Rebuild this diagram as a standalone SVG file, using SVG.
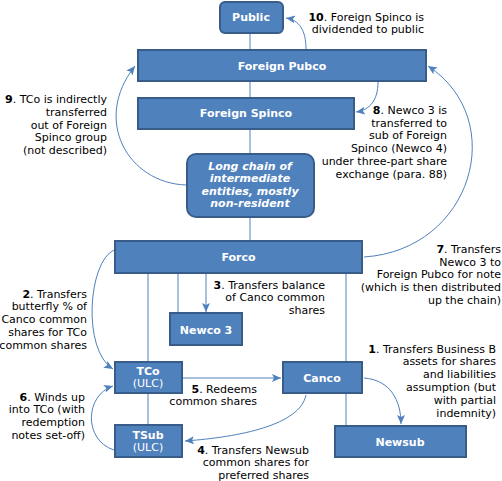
<svg xmlns="http://www.w3.org/2000/svg" width="502" height="481" viewBox="0 0 502 481">
<style>
.n{fill:#4F81BD;stroke:#385D8A;stroke-width:2}
.t{font-family:"DejaVu Sans","Liberation Sans",sans-serif;font-size:11px}
.w{fill:#fff;text-anchor:middle}
.b{font-weight:bold}
.r{text-anchor:end;fill:#000}
.c{fill:none;stroke:#4F81BD;stroke-width:1}
</style>
<defs>
<marker id="ah" markerUnits="userSpaceOnUse" markerWidth="10" markerHeight="10" refX="9" refY="4" orient="auto">
<path d="M0,0 L9,4 L0,8 L2,4 Z" fill="#4F81BD"/>
</marker>
</defs>
<rect width="502" height="481" fill="#fff"/>
<g id="connectors">
<line class="c" x1="250" y1="34" x2="250" y2="49"/>
<line class="c" x1="250" y1="82" x2="250" y2="97"/>
<line class="c" x1="250" y1="129" x2="250" y2="153"/>
<line class="c" x1="250" y1="218" x2="250" y2="240"/>
<line class="c" x1="148" y1="274" x2="148" y2="361"/>
<line class="c" x1="178" y1="274" x2="178" y2="312"/>
<line class="c" x1="206" y1="274" x2="206" y2="312" marker-end="url(#ah)"/>
<line class="c" x1="346" y1="274" x2="346" y2="361"/>
<line class="c" x1="148" y1="394" x2="148" y2="424"/>
<line class="c" x1="346" y1="394" x2="346" y2="425"/>
<line class="c" x1="183" y1="378" x2="281" y2="378" marker-end="url(#ah)"/>
<path class="c" d="M306,49 C306,30 299,20 286,18" marker-end="url(#ah)"/>
<path class="c" d="M186,185 C128,183 92,120 135,66" marker-end="url(#ah)"/>
<path class="c" d="M378,82 C378,100 370,110 356,112" marker-end="url(#ah)"/>
<path class="c" d="M364,257 C472,250 510,120 428,66" marker-end="url(#ah)"/>
<path class="c" d="M114,250 C88,262 82,350 113,369" marker-end="url(#ah)"/>
<path class="c" d="M114,450 C83,440 85,395 113,386" marker-end="url(#ah)"/>
<path class="c" d="M306,395 C300,425 240,437 185,441" marker-end="url(#ah)"/>
<path class="c" d="M364,378 C390,380 401,400 401,424" marker-end="url(#ah)"/>
</g>
<g id="public">
<rect class="n" x="220" y="2" width="63" height="31" rx="5"/>
<text class="t w b" x="251" y="21">Public</text>
</g>
<g id="foreign-pubco">
<rect class="n" x="138" y="50" width="288" height="31"/>
<text class="t w b" x="282" y="70">Foreign Pubco</text>
</g>
<g id="foreign-spinco">
<rect class="n" x="138" y="98" width="216" height="31"/>
<text class="t w b" x="246" y="117">Foreign Spinco</text>
</g>
<g id="long-chain">
<rect class="n" x="187" y="154" width="127" height="63" rx="9"/>
<text class="t w b" font-style="italic" x="250" y="170">Long chain of</text>
<text class="t w b" font-style="italic" x="250" y="182">intermediate</text>
<text class="t w b" font-style="italic" x="250" y="195">entities, mostly</text>
<text class="t w b" font-style="italic" x="250" y="207">non-resident</text>
</g>
<g id="forco">
<rect class="n" x="115" y="241" width="247" height="32"/>
<text class="t w b" x="238.5" y="261">Forco</text>
</g>
<g id="newco3">
<rect class="n" x="170" y="313" width="72" height="32"/>
<text class="t w b" x="206" y="334">Newco 3</text>
</g>
<g id="tco">
<rect class="n" x="115" y="362" width="67" height="31"/>
<text class="t w b" x="148" y="375">TCo</text>
<text class="t w" x="148" y="387">(ULC)</text>
</g>
<g id="canco">
<rect class="n" x="283" y="362" width="79" height="31"/>
<text class="t w b" x="322" y="382">Canco</text>
</g>
<g id="tsub">
<rect class="n" x="115" y="425" width="67" height="32"/>
<text class="t w b" x="148" y="439">TSub</text>
<text class="t w" x="148" y="451">(ULC)</text>
</g>
<g id="newsub">
<rect class="n" x="335" y="426" width="131" height="31"/>
<text class="t w b" x="400" y="446">Newsub</text>
</g>
<g id="labels">
<text class="t r" x="424" y="21"><tspan class="b">10</tspan>. Foreign Spinco is</text>
<text class="t r" x="424" y="33">dividended to public</text>
<text class="t r" x="107" y="103"><tspan class="b">9</tspan>. TCo is indirectly</text>
<text class="t r" x="107" y="116">transferred</text>
<text class="t r" x="107" y="129">out of Foreign</text>
<text class="t r" x="107" y="141">Spinco group</text>
<text class="t r" x="107" y="154">(not described)</text>
<text class="t r" x="447" y="114"><tspan class="b">8</tspan>. Newco 3 is</text>
<text class="t r" x="447" y="127">transferred to</text>
<text class="t r" x="447" y="139">sub of Foreign</text>
<text class="t r" x="447" y="152">Spinco (Newco 4)</text>
<text class="t r" x="447" y="165">under three-part share</text>
<text class="t r" x="447" y="178">exchange (para. 88)</text>
<text class="t r" x="501" y="253"><tspan class="b">7</tspan>. Transfers</text>
<text class="t r" x="501" y="266">Newco 3 to</text>
<text class="t r" x="501" y="278">Foreign Pubco for note</text>
<text class="t r" x="501" y="291">(which is then distributed</text>
<text class="t r" x="501" y="304">up the chain)</text>
<text class="t r" x="325" y="289"><tspan class="b">3</tspan>. Transfers balance</text>
<text class="t r" x="325" y="301">of Canco common</text>
<text class="t r" x="325" y="314">shares</text>
<text class="t r" x="87" y="298"><tspan class="b">2</tspan>. Transfers</text>
<text class="t r" x="87" y="310">butterfly % of</text>
<text class="t r" x="87" y="323">Canco common</text>
<text class="t r" x="87" y="336">shares for TCo</text>
<text class="t r" x="87" y="349">common shares</text>
<text class="t r" x="496" y="353"><tspan class="b">1</tspan>. Transfers Business B</text>
<text class="t r" x="496" y="365">assets for shares</text>
<text class="t r" x="496" y="378">and liabilities</text>
<text class="t r" x="496" y="391">assumption (but</text>
<text class="t r" x="496" y="404">with partial</text>
<text class="t r" x="496" y="417">indemnity)</text>
<text class="t r" x="257" y="393"><tspan class="b">5</tspan>. Redeems</text>
<text class="t r" x="257" y="405">common shares</text>
<text class="t r" x="85" y="401"><tspan class="b">6</tspan>. Winds up</text>
<text class="t r" x="85" y="413">into TCo (with</text>
<text class="t r" x="85" y="426">redemption</text>
<text class="t r" x="85" y="439">notes set-off)</text>
<text class="t r" x="309" y="454"><tspan class="b">4</tspan>. Transfers Newsub</text>
<text class="t r" x="309" y="466">common shares for</text>
<text class="t r" x="309" y="479">preferred shares</text>
</g>
</svg>
